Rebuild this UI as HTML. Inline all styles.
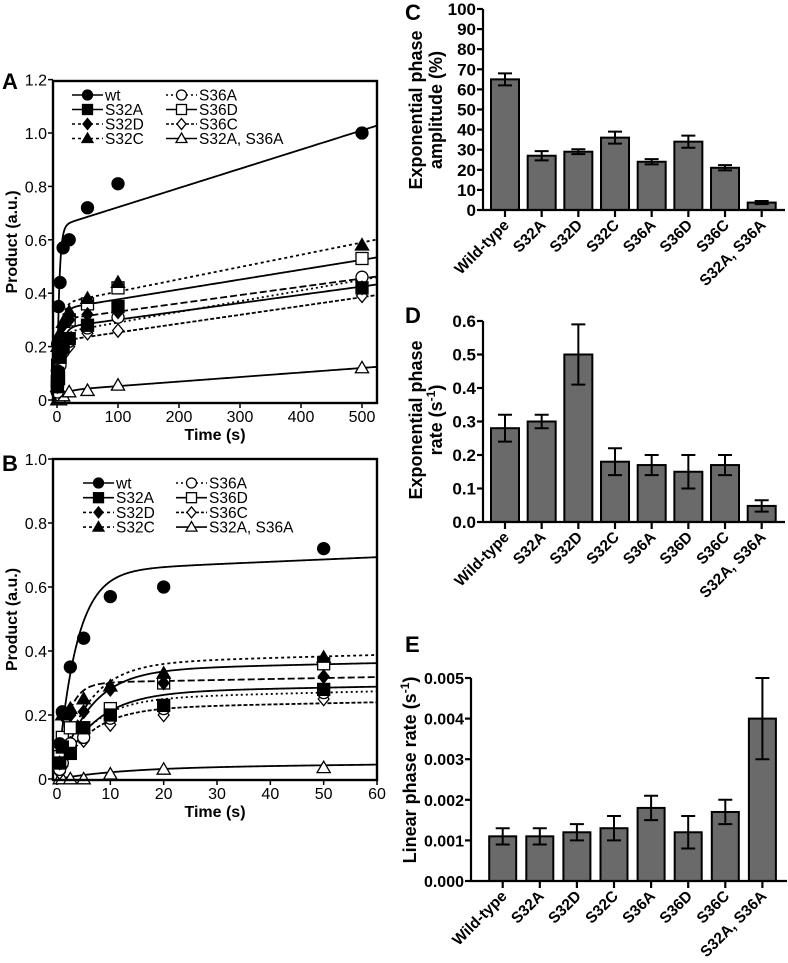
<!DOCTYPE html>
<html><head><meta charset="utf-8"><style>
html,body{margin:0;padding:0;background:#fff}
svg{display:block;font-family:"Liberation Sans",Arial,sans-serif}
</style></head><body>
<svg id="fig" width="788" height="963" viewBox="0 0 788 963" xmlns="http://www.w3.org/2000/svg"></svg>
<script>
// ---- Panels A/B data ----
const seriesNames = ["wt","S32A","S32D","S32C","S36A","S36D","S36C","S32A, S36A"];
const timePoints = [0.5,1,2.5,5,10,20,50,100,500];
const ptsWt   = [0.11,0.21,0.35,0.44,0.57,0.60,0.72,0.81,1.00];
const ptsS32A = [0.05,0.10,0.08,0.16,0.20,0.23,0.28,0.35,0.42];
const ptsS32D = [0.05,0.20,0.20,0.21,0.28,0.30,0.32,0.33,0.42];
const ptsS32C = [0.05,0.20,0.22,0.25,0.29,0.33,0.38,0.44,0.58];
const ptsS36A = [0.03,0.05,0.11,0.13,0.19,0.22,0.27,0.31,0.46];
const ptsS36D = [0.07,0.13,0.16,0.16,0.22,0.30,0.36,0.42,0.53];
const ptsS36C = [0.02,0.04,0.09,0.12,0.17,0.20,0.25,0.26,0.39];
const ptsDbl  = [0.00,0.00,0.00,0.00,0.015,0.03,0.035,0.055,0.12];
const fitAmp   = [0.65,0.27,0.30,0.36,0.25,0.34,0.22,0.035];
const fitRate  = [0.28,0.15,0.50,0.18,0.17,0.17,0.17,0.08];
const fitSlope = [0.00072,0.00031,0.00031,0.00046,0.00040,0.00037,0.00033,0.00017];
// ---- Bar data ----
const barCats = ["Wild-type","S32A","S32D","S32C","S36A","S36D","S36C","S32A, S36A"];
const ampVals = [65,27,29,36,24,34,21,3.7];
const ampErr  = [3,2.3,1.2,3,1.3,3,1.3,0.8];
const rateVals = [0.28,0.30,0.50,0.18,0.17,0.15,0.17,0.048];
const rateErr  = [0.04,0.02,0.09,0.04,0.03,0.05,0.03,0.017];
const linVals = [0.0011,0.0011,0.0012,0.0013,0.0018,0.0012,0.0017,0.0040];
const linErr  = [0.0002,0.0002,0.0002,0.0003,0.0003,0.0004,0.0003,0.0010];
const ampTicks = [0,10,20,30,40,50,60,70,80,90,100];
const rateTicks = ["0.0","0.1","0.2","0.3","0.4","0.5","0.6"];
const linTicks = ["0.000","0.001","0.002","0.003","0.004","0.005"];

const NS="http://www.w3.org/2000/svg";
const svg=document.getElementById('fig');
function mk(tag,attrs,parent,text){const e=document.createElementNS(NS,tag);for(const k in attrs)e.setAttribute(k,attrs[k]);if(text!==undefined)e.textContent=text;(parent||svg).appendChild(e);return e;}
function grp(name,parent){const g=mk('g',{},parent);return g;}

const allPts=[ptsWt,ptsS32A,ptsS32D,ptsS32C,ptsS36A,ptsS36D,ptsS36C,ptsDbl];
const markers=["circle","square","diamond","triangle","ocircle","osquare","odiamond","otriangle"];
const dashes=["","","7,3","3,3","2,3","","4,2",""];
const dashesLeg=["","","3,3","3,3","2,3","","3,2",""];

function marker(g,type,x,y,s){
  const filled=type[0]!=='o'; const t=filled?type:type.slice(1);
  const st={fill:filled?'#000':'#fff',stroke:'#000','stroke-width':1.3};
  let e;
  if(t==='circle') e=mk('circle',Object.assign({cx:x,cy:y,r:s},st),g);
  else if(t==='square') e=mk('rect',Object.assign({x:x-s,y:y-s,width:2*s,height:2*s},st),g);
  else if(t==='diamond') e=mk('polygon',Object.assign({points:`${x},${y-s*1.1} ${x+s*0.9},${y} ${x},${y+s*1.1} ${x-s*0.9},${y}`},st),g);
  else e=mk('polygon',Object.assign({points:`${x},${y-s*1.1} ${x+s*1.1},${y+s*0.8} ${x-s*1.1},${y+s*0.8}`},st),g);
  return e;
}

function linePanel(o){
  const g=grp(o.name);
  const X=v=>o.x0+(v/o.xmax)*(o.x1-o.x0);
  const Y=v=>o.y0-(v/o.ymax)*(o.y0-o.y1);
  const clip='clip'+o.letter;
  const cp=mk('clipPath',{id:clip},g); mk('rect',{x:o.fl,y:o.ft,width:o.fr-o.fl,height:o.fb-o.ft+8},cp);
  const lab=mk('text',{x:o.lx,y:o.ly,'font-size':22,'font-weight':'bold'},g,o.letter);
  
  
  const yt=grp('y-axis',g);
  o.yticks.forEach(t=>{const y=Y(t[0]);mk('line',{x1:o.fl-5,y1:y,x2:o.fl,y2:y,stroke:'#000','stroke-width':1.5},yt);
    mk('text',{x:o.fl-6,y:y+6,'font-size':16,'text-anchor':'end'},yt,t[1]);});
  const xt=grp('x-axis',g);
  o.xticks.forEach(t=>{const x=X(t);mk('line',{x1:x,y1:o.fb,x2:x,y2:o.fb+5,stroke:'#000','stroke-width':1.5},xt);
    mk('text',{x:x,y:o.fb+19,'font-size':16,'text-anchor':'middle'},xt,String(t));});
  const xtl=mk('text',{x:(o.fl+o.fr)/2,y:o.fb+37,'font-size':16,'font-weight':'bold','text-anchor':'middle'},g,'Time (s)');
  
  
  const cy=(o.ft+o.fb)/2;
  const ytl=mk('text',{x:17,y:cy,'font-size':16,'font-weight':'bold','text-anchor':'middle',transform:`rotate(-90 17 ${cy})`},g,'Product (a.u.)');
  
  
  const fits=grp('fit-curves',g); fits.setAttribute('clip-path',`url(#${clip})`);
  seriesNames.forEach((n,i)=>{
    let d='';const N=300;const tmax=o.xmax*1.06;
    for(let j=0;j<=N;j++){const tt=(j/N)**2*tmax;const v=fitAmp[i]*(1-Math.exp(-fitRate[i]*tt))+fitSlope[i]*tt;d+=(j?'L':'M')+X(tt).toFixed(2)+','+Y(v).toFixed(2);}
    const p=mk('path',{d:d,fill:'none',stroke:'#000','stroke-width':1.8,'stroke-dasharray':dashes[i]},fits);
    
    
  });
  const pg=grp('data-points',g);
  seriesNames.slice().reverse().forEach((n,ri)=>{const i=seriesNames.length-1-ri;
    allPts[i].forEach((v,j)=>{const t=timePoints[j]; if(t>o.xmax) return;
      const m=marker(pg,markers[i],X(t),Y(v),o.ms);
      
      });
  });
  mk('rect',{x:o.fl,y:o.ft,width:o.fr-o.fl,height:o.fb-o.ft,fill:'none',stroke:'#000','stroke-width':2.4},g);
  const lg=grp('legend',g);
  seriesNames.forEach((n,i)=>{const col=i<4?0:1,row=i%4;const lx=o.legX[col],ly=o.legY+row*o.legDy;
    const e=grp('legend-entry',lg);
    mk('line',{x1:lx,y1:ly,x2:lx+31,y2:ly,stroke:'#000','stroke-width':1.6,'stroke-dasharray':dashesLeg[i]},e);
    marker(e,markers[i],lx+15.5,ly,5);
    mk('text',{x:lx+33,y:ly+5.5,'font-size':15.5},e,n);
  });
}

linePanel({name:'panel-a',letter:'A',lx:2,ly:89,fl:53,fr:377,ft:81,fb:403,x0:57,x1:362,xmax:500,y0:400,y1:133,ymax:1.0,
  yticks:[[0,'0'],[0.2,'0.2'],[0.4,'0.4'],[0.6,'0.6'],[0.8,'0.8'],[1.0,'1.0'],[1.2,'1.2']],xticks:[0,100,200,300,400,500],
  legX:[72,166],legY:95,legDy:14.5,ms:6});
linePanel({name:'panel-b',letter:'B',lx:2,ly:471,fl:53,fr:377,ft:459,fb:780,x0:57,x1:377,xmax:60,y0:779,y1:459,ymax:1.0,
  yticks:[[0,'0'],[0.2,'0.2'],[0.4,'0.4'],[0.6,'0.6'],[0.8,'0.8'],[1.0,'1.0']],xticks:[0,10,20,30,40,50,60],
  legX:[83,176],legY:483,legDy:14.7,ms:6});

function barPanel(o){
  const g=grp(o.name);
  const Y=v=>o.y0-(v/o.ymax)*(o.y0-o.y1);
  const lab=mk('text',{x:o.lx,y:o.ly,'font-size':22,'font-weight':'bold'},g,o.letter);
  
  
  const yt=grp('y-axis',g);
  mk('line',{x1:o.ax,y1:o.y1,x2:o.ax,y2:o.y0,stroke:'#000','stroke-width':2.2},yt);
  o.ticks.forEach((t,i)=>{const v=o.tickVals[i];const y=Y(v);mk('line',{x1:o.ax-6,y1:y,x2:o.ax,y2:y,stroke:'#000','stroke-width':2.2},yt);
    mk('text',{x:o.ax-7,y:y+6,'font-size':o.tfs,'font-weight':'bold','text-anchor':'end'},yt,String(t));});
  const bw=o.bw;
  const bars=grp('bars',g);
  barCats.forEach((c,i)=>{const cx=o.c0+i*o.dc;const v=o.vals[i],e=o.err[i];
    const r=mk('rect',{x:cx-bw/2,y:Y(v),width:bw,height:o.y0-Y(v),fill:'#6a6a6a',stroke:'#000','stroke-width':2},bars);
    
    
    const eb=grp('error-bar',bars);
    mk('path',{d:`M${cx},${Y(v+e)}V${Y(v-e)}M${cx-7},${Y(v+e)}H${cx+7}M${cx-7},${Y(v-e)}H${cx+7}`,stroke:'#000','stroke-width':2,fill:'none'},eb);
  });
  const xa=grp('x-axis',g);
  mk('line',{x1:o.ax,y1:o.y0,x2:o.axEnd,y2:o.y0,stroke:'#000','stroke-width':2.2},xa);
  barCats.forEach((c,i)=>{const cx=o.c0+i*o.dc;
    mk('line',{x1:cx,y1:o.y0,x2:cx,y2:o.y0+7,stroke:'#000','stroke-width':2.2},xa);
    const tx=cx+5,ty=o.y0+16;
    mk('text',{x:tx,y:ty,'font-size':15.5,'font-weight':'bold','text-anchor':'end',transform:`rotate(-45 ${tx} ${ty})`},xa,c);
  });
  const tg=grp('y-axis-title',g);
  o.title.forEach((line,k)=>{const x=o.tx[k];
    const t=mk('text',{x:x,y:o.ty,'font-size':18,'font-weight':'bold','text-anchor':'middle',transform:`rotate(-90 ${x} ${o.ty})`},tg);
    t.innerHTML=line;});
}
barPanel({name:'panel-c',letter:'C',lx:405,ly:20,ax:483,axEnd:785,y0:210,y1:9,ymax:100,c0:505,dc:36.67,bw:28,tfs:17,
  vals:ampVals,err:ampErr,ticks:ampTicks,tickVals:ampTicks,title:['Exponential phase','amplitude (%)'],tx:[422,442],ty:110});
barPanel({name:'panel-d',letter:'D',lx:405,ly:323,ax:483,axEnd:785,y0:522,y1:321,ymax:0.6,c0:505,dc:36.67,bw:28,tfs:17,
  vals:rateVals,err:rateErr,ticks:rateTicks,tickVals:rateTicks.map(Number),title:['Exponential phase','rate (s<tspan dy="-7" font-size="12">-1</tspan><tspan dy="7">)</tspan>'],tx:[422,442],ty:420});
barPanel({name:'panel-e',letter:'E',lx:405,ly:652,ax:471,axEnd:787,y0:881,y1:678,ymax:0.005,c0:502.7,dc:37.1,bw:27,tfs:16,
  vals:linVals,err:linErr,ticks:linTicks,tickVals:linTicks.map(Number),title:['Linear phase rate (s<tspan dy="-7" font-size="12">-1</tspan><tspan dy="7">)</tspan>'],tx:[416],ty:770});
</script>
</body></html>
